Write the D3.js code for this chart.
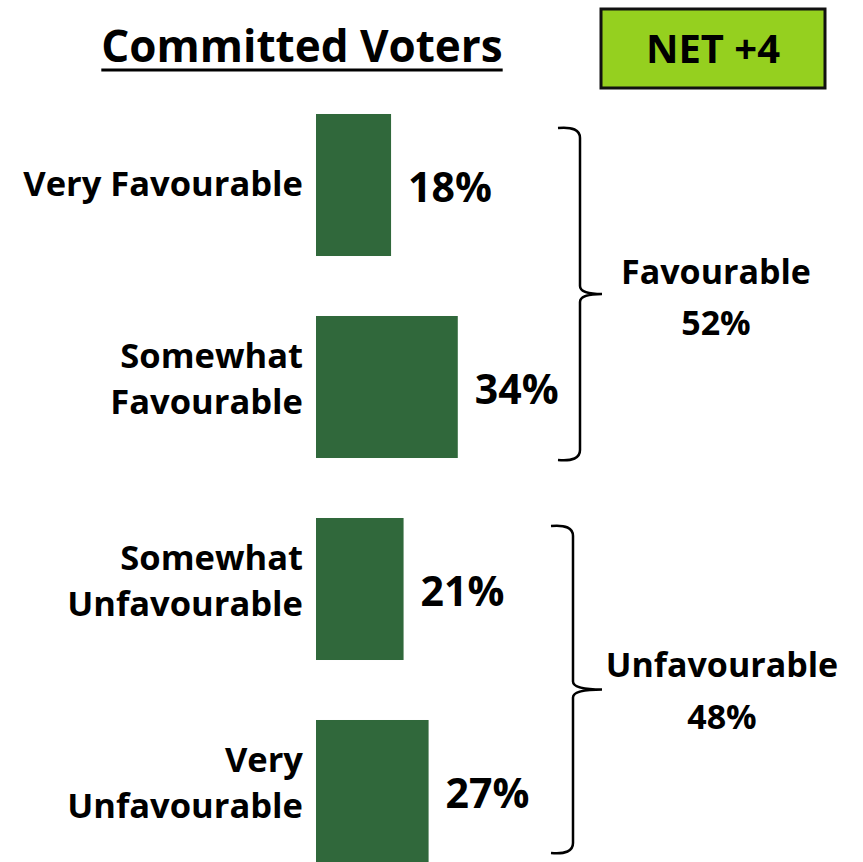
<!DOCTYPE html>
<html>
<head>
<meta charset="utf-8">
<script src="https://cdn.jsdelivr.net/npm/d3@7"></script>
<style>
  html, body { margin: 0; padding: 0; background: #fff; }
  svg { display: block; }
  text { font-family: "Open Sans", Lato, sans-serif; font-weight: 700; fill: #000; }
</style>
</head>
<body>
<svg id="chart" width="863" height="862"></svg>
<script>
const categories = ["Very Favourable", "Somewhat Favourable", "Somewhat Unfavourable", "Very Unfavourable"];
const categoryLines = [["Very Favourable"], ["Somewhat", "Favourable"], ["Somewhat", "Unfavourable"], ["Very", "Unfavourable"]];
const values = [18, 34, 21, 27];
const groups = [
  { name: "Favourable", value: 52, members: ["Very Favourable", "Somewhat Favourable"] },
  { name: "Unfavourable", value: 48, members: ["Somewhat Unfavourable", "Very Unfavourable"] }
];
const title = "Committed Voters";
const netLabel = "NET +4";

const svg = d3.select("#chart");

const y = d3.scaleBand().domain(categories).range([84, 892]).paddingInner(0.297).paddingOuter(0.1485);
const x = d3.scaleLinear().domain([0, 100]).range([316, 733]);

// Title
const t = svg.append("text").attr("x", 302).attr("y", 62).attr("text-anchor", "middle")
  .style("font-size", "44px").text(title);
const tb = t.node().getBBox();
svg.append("line").attr("x1", tb.x).attr("x2", tb.x + tb.width).attr("y1", 70).attr("y2", 70)
  .attr("stroke", "#000").attr("stroke-width", 3);

// NET box
svg.append("rect").attr("x", 601).attr("y", 9).attr("width", 224).attr("height", 79)
  .attr("fill", "#95d01f").attr("stroke", "#111").attr("stroke-width", 3);
svg.append("text").attr("x", 713).attr("y", 63).attr("text-anchor", "middle")
  .style("font-size", "40px").text(netLabel);

// Bars
svg.selectAll("rect.bar").data(categories).join("rect").attr("class", "bar")
  .attr("x", x(0)).attr("y", d => y(d))
  .attr("width", (d, i) => x(values[i]) - x(0)).attr("height", y.bandwidth())
  .attr("fill", "#30683b");

// Value labels
svg.selectAll("text.val").data(categories).join("text").attr("class", "val")
  .attr("x", (d, i) => x(values[i]) + 17).attr("y", d => y(d) + y.bandwidth() / 2 + 17)
  .style("font-size", "41px").text((d, i) => values[i] + "%");

// Category labels
const cl = svg.selectAll("text.cat").data(categories).join("text").attr("class", "cat")
  .attr("text-anchor", "end").style("font-size", "34.5px");
cl.each(function(d, i) {
  const lines = categoryLines[i];
  const cy = y(d) + y.bandwidth() / 2;
  const offs = lines.length === 1 ? [11] : [-19, 27];
  d3.select(this).selectAll("tspan").data(lines).join("tspan")
    .attr("x", 303).attr("y", (l, j) => cy + offs[j]).text(l => l);
});

// Braces
const braceSpec = [
  { bx: 580, topOff: 14, botOff: 2, nameOff: -10, valOff: 41, cx: 716 },
  { bx: 573, topOff: 8, botOff: -9, nameOff: -13, valOff: 39, cx: 722 }
];
groups.forEach((g, gi) => {
  const s = braceSpec[gi];
  const top = y(g.members[0]) + s.topOff;
  const bot = y(g.members[g.members.length - 1]) + y.bandwidth() + s.botOff;
  const mid = (top + bot) / 2;
  const bx = s.bx;
  const hx = bx - 22;
  const tip = 602;
  const p = d3.path();
  p.moveTo(hx, top);
  p.quadraticCurveTo(bx, top - 2, bx, top + 10);
  p.lineTo(bx, mid - 8);
  p.quadraticCurveTo(bx, mid, tip, mid);
  p.moveTo(tip, mid);
  p.quadraticCurveTo(bx, mid, bx, mid + 8);
  p.lineTo(bx, bot - 10);
  p.quadraticCurveTo(bx, bot + 2, hx, bot);
  svg.append("path").attr("d", p.toString()).attr("fill", "none")
    .attr("stroke", "#000").attr("stroke-width", 2.5);
  svg.append("text").attr("x", s.cx).attr("y", mid + s.nameOff).attr("text-anchor", "middle")
    .style("font-size", "34px").text(g.name);
  svg.append("text").attr("x", s.cx).attr("y", mid + s.valOff).attr("text-anchor", "middle")
    .style("font-size", "34px").text(g.value + "%");
});
</script>
</body>
</html>
